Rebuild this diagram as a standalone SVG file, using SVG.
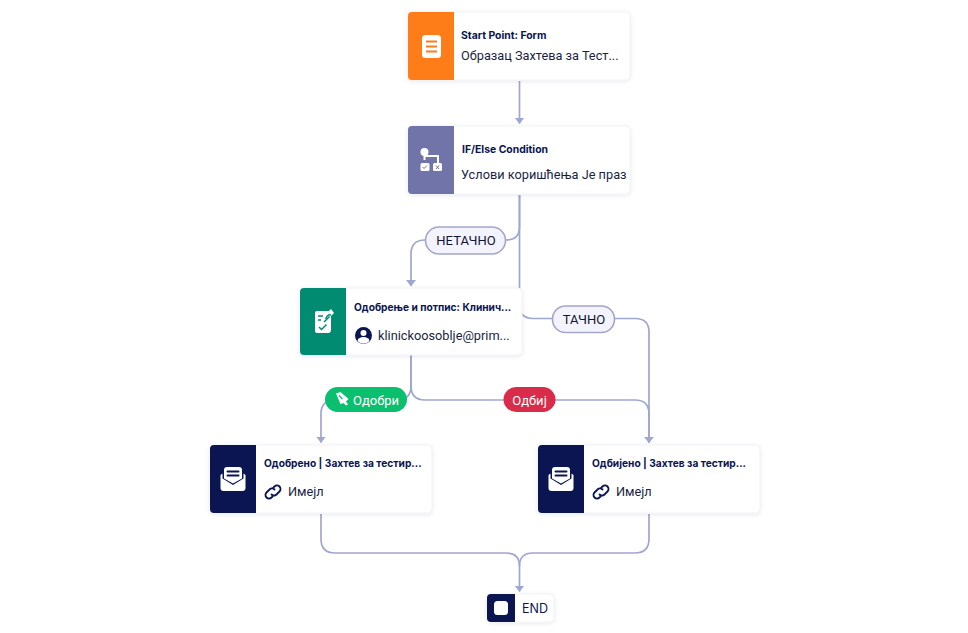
<svg xmlns="http://www.w3.org/2000/svg" width="968" height="633" viewBox="0 0 968 633">
<style>
text{font-family:"Inter","Roboto","Liberation Sans",sans-serif;fill:#0a1551}
.t{font-size:10.400px;font-weight:700}
.s{font-size:12.750px;font-family:"Roboto","Inter",sans-serif;fill:#1b1f3f}
.card{fill:#fff;stroke:#f1f2f6;stroke-width:1;filter:url(#sh)}
.c{fill:none;stroke:#a0a6d2;stroke-width:1.700}
.lab{fill:#f3f3fe;stroke:#a3a6c8;stroke-width:1.600}
.lt{font-family:"Roboto","Inter",sans-serif;font-size:13px;fill:#11142d;text-anchor:middle}
.wt{font-family:"Roboto","Inter",sans-serif;font-size:13px;fill:#fff;text-anchor:middle}
.ic{fill:#fff}
</style>
<defs>
<filter id="sh" x="-10%" y="-20%" width="120%" height="140%"><feDropShadow dx="0" dy="1" stdDeviation="2" flood-color="#0a1551" flood-opacity=".09"/></filter>
<marker id="a" markerWidth="7" markerHeight="11" refX="6" refY="5.500" orient="auto" markerUnits="userSpaceOnUse" viewBox="0 0 7 11"><path d="M0 0.500L6.500 5.500L0 10.500Z" fill="#a0a6d2"/></marker>
<g id="mail"><path class="ic" d="M-9 -9.500a3 3 0 0 1 3-3H6a3 3 0 0 1 3 3V-1L0 4L-9 -1z"/><path class="ic" d="M-12.500 -4.500L-10.500 -6V-1L0 5.500L10.500 -1V-6L12.500 -4.500V8.500a3 3 0 0 1-3 3H-9.500a3 3 0 0 1-3-3z"/><path d="M-5.500 -8H5.500M-5.500 -4H5.500" stroke="#0a1551" stroke-width="2" stroke-linecap="round"/></g>
<g id="link"><path d="M-1.500 2.500a3.500 3.500 0 0 0 5 0l3-3a3.500 3.500 0 0 0-5-5l-1.200 1.200M1.500 -2.500a3.500 3.500 0 0 0-5 0l-3 3a3.500 3.500 0 0 0 5 5l1.200-1.200" fill="none" stroke="#0a1551" stroke-width="1.800" stroke-linecap="round"/></g>
</defs>
<rect width="968" height="633" fill="#fff"/>
<g id="connectors">
<path class="c" d="M519.500 81V123.500" marker-end="url(#a)"/>
<path class="c" d="M519.500 195V227Q519.500 240 506 240H425Q411 240 411 254V286" marker-end="url(#a)"/>
<path class="c" d="M519.500 195V305Q519.500 318.500 533 318.500H635Q649 318.500 649 332V442.500" marker-end="url(#a)"/>
<path class="c" d="M411 355V386Q411 400 397 400H335Q321 400 321 414V442.500" marker-end="url(#a)"/>
<path class="c" d="M411 355V386Q411 400 425 400H635Q649 400 649 414V442.500" marker-end="url(#a)"/>
<path class="c" d="M321 514V539Q321 553 335 553H506Q519.500 553 519.500 566V591.500" marker-end="url(#a)"/>
<path class="c" d="M649 514V539Q649 553 635 553H533Q519.500 553 519.500 566"/>
</g>
<g id="label-netacno"><rect class="lab" x="425.500" y="227" width="80" height="27" rx="13.500"/><text class="lt" x="466" y="245">НЕТАЧНО</text></g>
<g id="label-tacno"><rect class="lab" x="552.500" y="306" width="62" height="26.500" rx="13"/><text class="lt" x="584" y="323.500">ТАЧНО</text></g>
<g id="label-odobri"><rect x="325" y="387" width="82" height="25" rx="12.500" fill="#0abf6e"/>
<path class="ic" d="M336 393.500l4.500-1.500l8 7l-2.500 2.500l2 3l-2 1l-2.500-2.500l-3 1z"/><path d="M339 395.500l3.500 3.500" stroke="#0abf6e" stroke-width="1.200"/>
<text class="wt" x="376" y="405">Одобри</text></g>
<g id="label-odbij"><rect x="503.500" y="387" width="52" height="25" rx="12.500" fill="#d92c4a"/><text class="wt" x="529.500" y="405">Одбиј</text></g>
<g id="node-start"><rect class="card" x="408" y="12" width="222" height="68" rx="4"/><path d="M454 12H412a4 4 0 0 0-4 4V76a4 4 0 0 0 4 4H454z" fill="#ff7d19"/>
<rect class="ic" x="422" y="35" width="19" height="23" rx="3.500"/><path d="M426 41.500h11M426 46.500h11M426 51.500h11" stroke="#ff7d19" stroke-width="2"/>
<text class="t" x="461" y="39">Start Point: Form</text><text class="s" x="461" y="60">Образац Захтева за Тест...</text></g>
<g id="node-condition"><rect class="card" x="408" y="126" width="222" height="68" rx="4"/><path d="M454 126H412a4 4 0 0 0-4 4V190a4 4 0 0 0 4 4H454z" fill="#7074a8"/>
<circle class="ic" cx="424.500" cy="152" r="4"/><path d="M424.500 152V160M424.500 156H438V163" stroke="#fff" stroke-width="2" fill="none"/><rect class="ic" x="420.500" y="163" width="9" height="8" rx="1.500"/><rect class="ic" x="433" y="163" width="9" height="8" rx="1.500"/>
<path d="M422.500 167l1.500 1.500l3-3M436 165.500l3 3.500M439 165.500l-3 3.500" stroke="#7074a8" stroke-width="1" fill="none"/>
<text class="t" x="462" y="153">IF/Else Condition</text>
<text class="s" x="461" y="179">Услови коришћења Је праз</text></g>
<g id="node-approval"><rect class="card" x="300" y="288" width="222" height="67" rx="4"/><path d="M346 288H304a4 4 0 0 0-4 4V351a4 4 0 0 0 4 4H346z" fill="#018c72"/>
<path class="ic" d="M315 313a2 2 0 0 1 2-2h14v19a3 3 0 0 1-3 3H317a2 2 0 0 1-2-2z"/><path d="M319 327l2.500 2.500l5-5M318 316h5M318 320h3M324 322l7-7" stroke="#018c72" stroke-width="1.500" fill="none"/><path class="ic" d="M327 313l4-4l3 4l-4 4z"/><path d="M326 319a4 4 0 0 1 5-4" stroke="#018c72" stroke-width="1.500" fill="none"/>
<text class="t" x="354" y="311" style="font-size:10.200px">Одобрење и потпис: Клинич...</text>
<circle cx="363.500" cy="335.500" r="8.500" fill="#0a1551"/><circle class="ic" cx="363.500" cy="333" r="3"/><path class="ic" d="M357.500 341a6 4 0 0 1 12 0a8 8 0 0 1-12 0z"/>
<text class="s" x="378" y="340">klinickoosoblje@prim...</text></g>
<g id="node-approved"><rect class="card" x="210" y="445" width="222" height="68" rx="4"/><path d="M256 445H214a4 4 0 0 0-4 4V509a4 4 0 0 0 4 4H256z" fill="#0a1551"/>
<use href="#mail" x="233" y="479.500"/>
<text class="t" x="264" y="467" style="font-size:10.200px">Одобрено | Захтев за тестир...</text>
<use href="#link" x="273" y="492"/><text class="s" x="288" y="496">Имејл</text></g>
<g id="node-rejected"><rect class="card" x="538" y="445" width="222" height="68" rx="4"/><path d="M584 445H542a4 4 0 0 0-4 4V509a4 4 0 0 0 4 4H584z" fill="#0a1551"/>
<use href="#mail" x="561" y="479.500"/>
<text class="t" x="592" y="467" style="font-size:10.200px">Одбијено | Захтев за тестир...</text>
<use href="#link" x="601" y="492"/><text class="s" x="616" y="496">Имејл</text></g>
<g id="node-end"><rect class="card" x="487" y="594" width="67" height="28" rx="4"/><path d="M515 594H491a4 4 0 0 0-4 4V618a4 4 0 0 0 4 4H515z" fill="#0a1551"/>
<rect class="ic" x="494" y="601" width="14" height="14" rx="3.500"/>
<text x="522" y="613" style="font-size:12.500px">END</text></g>
</svg>
